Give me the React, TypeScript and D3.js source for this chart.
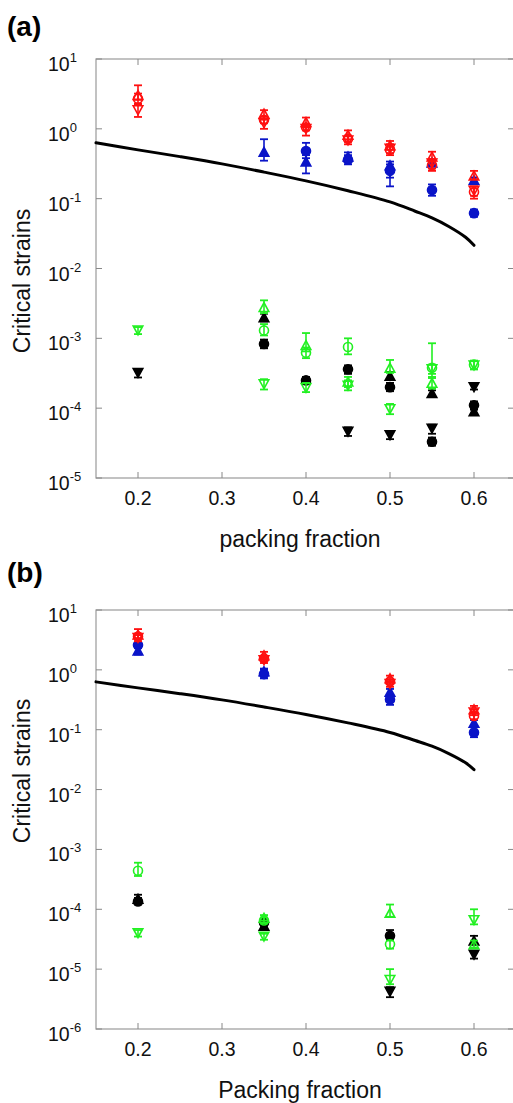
import React from "react";
import * as d3 from "d3";

// ---------- data ----------
const xTicks = [0.2, 0.3, 0.4, 0.5, 0.6];
const xTickLabels = ["0.2", "0.3", "0.4", "0.5", "0.6"];

// theory curve, same in both panels
const curveX = [0.15, 0.2, 0.25, 0.3, 0.35, 0.4, 0.45, 0.5, 0.53, 0.55, 0.57, 0.59, 0.6];
const curveY = [0.63, 0.5, 0.4, 0.315, 0.24, 0.18, 0.13, 0.09, 0.066, 0.053, 0.04, 0.028, 0.0215];

// [x, value, low, high]
type P = [number, number, number, number];

// panel (a)
const aRedUp: P[] = [[0.2, 3.05, 2.6, 4.2], [0.35, 1.65, 1.4, 1.85], [0.4, 1.25, 1.05, 1.45], [0.45, 0.82, 0.7, 0.95], [0.5, 0.58, 0.5, 0.67], [0.55, 0.4, 0.34, 0.47], [0.6, 0.215, 0.19, 0.25]];
const aRedCircle: P[] = [[0.2, 2.7, 2.3, 3.2], [0.35, 1.35, 1.2, 1.5], [0.4, 1.05, 0.95, 1.15], [0.45, 0.72, 0.65, 0.8], [0.5, 0.5, 0.45, 0.55], [0.55, 0.3, 0.27, 0.34], [0.6, 0.125, 0.11, 0.14]];
const aRedDown: P[] = [[0.2, 1.85, 1.48, 2.2], [0.35, 1.2, 1.0, 1.35], [0.4, 1.0, 0.8, 1.1], [0.45, 0.68, 0.6, 0.78], [0.5, 0.52, 0.42, 0.6], [0.55, 0.32, 0.25, 0.37], [0.6, 0.13, 0.1, 0.15]];
const aBlueCircle: P[] = [[0.4, 0.48, 0.38, 0.63], [0.45, 0.36, 0.31, 0.42], [0.5, 0.25, 0.2, 0.31], [0.55, 0.133, 0.11, 0.16], [0.6, 0.062, 0.055, 0.07]];
const aBlueUp: P[] = [[0.35, 0.47, 0.35, 0.71], [0.4, 0.34, 0.23, 0.42], [0.45, 0.4, 0.34, 0.46], [0.5, 0.3, 0.15, 0.34], [0.55, 0.33, 0.3, 0.36], [0.6, 0.185, 0.17, 0.2]];
const aGreenCircle: P[] = [[0.35, 1.3e-3, 1.1e-3, 1.6e-3], [0.4, 6.2e-4, 5.2e-4, 7.4e-4], [0.45, 7.5e-4, 5.9e-4, 1.0e-3], [0.55, 3.8e-4, 2.8e-4, 8.5e-4], [0.6, 4.2e-4, 3.6e-4, 4.8e-4]];
const aGreenUp: P[] = [[0.35, 2.8e-3, 2.3e-3, 3.5e-3], [0.4, 8.0e-4, 6.5e-4, 1.19e-3], [0.45, 2.4e-4, 2.0e-4, 2.8e-4], [0.5, 3.8e-4, 3.2e-4, 4.9e-4], [0.55, 2.3e-4, 1.9e-4, 2.7e-4]];
const aGreenDown: P[] = [[0.2, 1.3e-3, 1.15e-3, 1.45e-3], [0.35, 2.2e-4, 1.85e-4, 2.6e-4], [0.4, 1.95e-4, 1.7e-4, 2.3e-4], [0.45, 2.1e-4, 1.8e-4, 2.5e-4], [0.5, 9.7e-5, 8.2e-5, 1.15e-4], [0.55, 3.6e-4, 3.1e-4, 4.2e-4], [0.6, 4.1e-4, 3.6e-4, 4.7e-4]];
const aBlackCircle: P[] = [[0.35, 8.3e-4, 7.2e-4, 9.6e-4], [0.4, 2.5e-4, 2.2e-4, 2.8e-4], [0.45, 3.6e-4, 3.1e-4, 4.1e-4], [0.5, 2.0e-4, 1.75e-4, 2.3e-4], [0.55, 3.3e-5, 2.9e-5, 3.8e-5], [0.6, 1.1e-4, 9.5e-5, 1.25e-4]];
const aBlackUp: P[] = [[0.35, 2.0e-3, 1.75e-3, 2.25e-3], [0.5, 2.9e-4, 2.6e-4, 3.3e-4], [0.55, 1.65e-4, 1.5e-4, 1.8e-4], [0.6, 9e-5, 8e-5, 1.0e-4]];
const aBlackDown: P[] = [[0.2, 3.2e-4, 2.75e-4, 3.6e-4], [0.45, 4.6e-5, 4.0e-5, 5.3e-5], [0.5, 4.1e-5, 3.6e-5, 4.6e-5], [0.55, 5.1e-5, 4.3e-5, 5.8e-5], [0.6, 2.0e-4, 1.85e-4, 2.15e-4]];

// panel (b)
const bRedUp: P[] = [[0.2, 3.9, 3.4, 4.8], [0.35, 1.75, 1.55, 2.0], [0.5, 0.72, 0.64, 0.8], [0.6, 0.22, 0.19, 0.25]];
const bRedCircle: P[] = [[0.2, 3.6, 3.2, 4.0], [0.35, 1.55, 1.4, 1.7], [0.5, 0.64, 0.58, 0.7], [0.6, 0.17, 0.15, 0.19]];
const bRedDown: P[] = [[0.2, 3.4, 3.0, 3.8], [0.35, 1.45, 1.3, 1.6], [0.5, 0.58, 0.52, 0.65], [0.6, 0.195, 0.175, 0.215]];
const bBlueCircle: P[] = [[0.2, 2.6, 2.3, 2.9], [0.35, 0.85, 0.72, 1.0], [0.5, 0.32, 0.26, 0.38], [0.6, 0.09, 0.075, 0.11]];
const bBlueUp: P[] = [[0.2, 2.1, 1.8, 2.4], [0.35, 0.95, 0.85, 1.05], [0.5, 0.43, 0.38, 0.48], [0.6, 0.13, 0.115, 0.145]];
const bGreenCircle: P[] = [[0.2, 4.4e-4, 3.6e-4, 6.0e-4], [0.35, 6.5e-5, 5.8e-5, 7.3e-5], [0.5, 2.6e-5, 2.2e-5, 3.0e-5]];
const bGreenUp: P[] = [[0.35, 7.2e-5, 6.5e-5, 8e-5], [0.5, 8.7e-5, 7.5e-5, 1.2e-4], [0.6, 2.6e-5, 2.3e-5, 3.0e-5]];
const bGreenDown: P[] = [[0.2, 4.0e-5, 3.5e-5, 4.5e-5], [0.35, 3.5e-5, 3.1e-5, 3.9e-5], [0.5, 6.6e-6, 5.6e-6, 1.0e-5], [0.6, 6.6e-5, 5.6e-5, 1.0e-4]];
const bBlackCircle: P[] = [[0.2, 1.35e-4, 1.2e-4, 1.55e-4], [0.35, 6.0e-5, 5.3e-5, 6.7e-5], [0.5, 3.6e-5, 3.1e-5, 4.5e-5]];
const bBlackUp: P[] = [[0.2, 1.5e-4, 1.35e-4, 1.75e-4], [0.35, 5.3e-5, 4.8e-5, 5.8e-5], [0.6, 3.0e-5, 2.6e-5, 3.6e-5]];
const bBlackDown: P[] = [[0.5, 4.2e-6, 3.4e-6, 5.0e-6], [0.6, 1.75e-5, 1.5e-5, 2.0e-5]];

const RED = "#ff1010";
const BLUE = "#0a14c8";
const GREEN = "#22f022";
const BLACK = "#000000";

type Shape = "circle" | "up" | "down";
interface Series { pts: P[]; color: string; shape: Shape; filled: boolean; }

const seriesA: Series[] = [
  { pts: aBlueUp, color: BLUE, shape: "up", filled: true },
  { pts: aBlueCircle, color: BLUE, shape: "circle", filled: true },
  { pts: aRedDown, color: RED, shape: "down", filled: false },
  { pts: aRedCircle, color: RED, shape: "circle", filled: false },
  { pts: aRedUp, color: RED, shape: "up", filled: false },
  { pts: aBlackDown, color: BLACK, shape: "down", filled: true },
  { pts: aBlackUp, color: BLACK, shape: "up", filled: true },
  { pts: aBlackCircle, color: BLACK, shape: "circle", filled: true },
  { pts: aGreenDown, color: GREEN, shape: "down", filled: false },
  { pts: aGreenCircle, color: GREEN, shape: "circle", filled: false },
  { pts: aGreenUp, color: GREEN, shape: "up", filled: false },
];
const seriesB: Series[] = [
  { pts: bBlueUp, color: BLUE, shape: "up", filled: true },
  { pts: bBlueCircle, color: BLUE, shape: "circle", filled: true },
  { pts: bRedDown, color: RED, shape: "down", filled: false },
  { pts: bRedCircle, color: RED, shape: "circle", filled: false },
  { pts: bRedUp, color: RED, shape: "up", filled: false },
  { pts: bBlackDown, color: BLACK, shape: "down", filled: true },
  { pts: bBlackUp, color: BLACK, shape: "up", filled: true },
  { pts: bBlackCircle, color: BLACK, shape: "circle", filled: true },
  { pts: bGreenDown, color: GREEN, shape: "down", filled: false },
  { pts: bGreenCircle, color: GREEN, shape: "circle", filled: false },
  { pts: bGreenUp, color: GREEN, shape: "up", filled: false },
];

const FONT = "'Liberation Sans', Arial, Helvetica, sans-serif";

function Marker({ cx, cy, s }: { cx: number; cy: number; s: Series }) {
  const sw = 1.6;
  const fill = s.filled ? s.color : "none";
  const r = 4.5;
  if (s.shape === "circle") {
    return <circle cx={cx} cy={cy} r={r} fill={fill} stroke={s.color} strokeWidth={sw} />;
  }
  const h = 4.4;
  const w = 4.8;
  const d = s.shape === "up"
    ? `M${cx},${cy - h}L${cx + w},${cy + h}L${cx - w},${cy + h}Z`
    : `M${cx},${cy + h}L${cx + w},${cy - h}L${cx - w},${cy - h}Z`;
  return <path d={d} fill={fill} stroke={s.color} strokeWidth={sw} strokeLinejoin="miter" />;
}

function Panel({ top, bottom, minExp, series, label, xLabel, yLabelY }: {
  top: number; bottom: number; minExp: number; series: Series[]; label: string; xLabel: string; yLabelY: number;
}) {
  const left = 96;
  const right = 514;
  const x = d3.scaleLinear().domain([0.15, 0.15 + (right - left) / 840]).range([left, right]);
  const y = d3.scaleLog().domain([Math.pow(10, minExp), 10]).range([bottom, top]);
  const exps = d3.range(minExp, 2);
  const line = d3.line<number>()
    .x((_, i) => x(curveX[i]))
    .y((d) => y(d))
    .curve(d3.curveCatmullRom.alpha(0.5));
  const tickCol = "#888";
  const tl = 6;
  const capW = 4;
  return (
    <g>
      <text x={7} y={top - (label === "(a)" ? 23 : 28)} fontFamily={FONT} fontWeight="bold" fontSize={28}>{label}</text>
      {/* frame */}
      <rect x={left} y={top} width={right - left} height={bottom - top} fill="none" stroke="#9a9a9a" strokeWidth={1.2} />
      {xTicks.map((t, i) => (
        <g key={"xt" + i}>
          <line x1={x(t)} x2={x(t)} y1={top} y2={top + tl} stroke={tickCol} strokeWidth={1} />
          <line x1={x(t)} x2={x(t)} y1={bottom} y2={bottom - tl} stroke={tickCol} strokeWidth={1} />
          <text x={x(t)} y={bottom + 27} textAnchor="middle" fontFamily={FONT} fontSize={19.5} fill="#111">{xTickLabels[i]}</text>
        </g>
      ))}
      {exps.map((e) => (
        <g key={"yt" + e}>
          <line x1={left} x2={left + tl} y1={y(Math.pow(10, e))} y2={y(Math.pow(10, e))} stroke={tickCol} strokeWidth={1} />
          <line x1={right} x2={right - tl} y1={y(Math.pow(10, e))} y2={y(Math.pow(10, e))} stroke={tickCol} strokeWidth={1} />
          <text x={48} y={y(Math.pow(10, e)) + 12} fontFamily={FONT} fontSize={19.5} fill="#111">
            10<tspan fontSize={13} dy={-9}>{String(e)}</tspan>
          </text>
        </g>
      ))}
      <path d={line(curveY) || ""} fill="none" stroke="#000" strokeWidth={3} strokeLinecap="round" />
      {series.map((s, si) => (
        <g key={"s" + si}>
          {s.pts.map((p, pi) => {
            const cx = x(p[0]);
            const yl = y(p[2]);
            const yh = y(p[3]);
            return (
              <g key={pi}>
                <line x1={cx} x2={cx} y1={yl} y2={yh} stroke={s.color} strokeWidth={1.6} />
                <line x1={cx - capW} x2={cx + capW} y1={yl} y2={yl} stroke={s.color} strokeWidth={1.8} />
                <line x1={cx - capW} x2={cx + capW} y1={yh} y2={yh} stroke={s.color} strokeWidth={1.8} />
                <Marker cx={cx} cy={y(p[1])} s={s} />
              </g>
            );
          })}
        </g>
      ))}
      <text x={300} y={bottom + 69} textAnchor="middle" fontFamily={FONT} fontSize={23} fill="#111">{xLabel}</text>
      <text transform={`translate(30,${yLabelY}) rotate(-90)`} textAnchor="middle" fontFamily={FONT} fontSize={23} fill="#111">Critical strains</text>
    </g>
  );
}

export default function App() {
  return (
    <svg width={513} height={1103} style={{ position: "absolute", left: 0, top: 0, background: "#fff" }}>
      <rect x={0} y={0} width={513} height={1103} fill="#fff" />
      <Panel top={59} bottom={478} minExp={-5} series={seriesA} label="(a)" xLabel="packing fraction" yLabelY={281} />
      <Panel top={610} bottom={1029} minExp={-6} series={seriesB} label="(b)" xLabel="Packing fraction" yLabelY={771} />
    </svg>
  );
}
